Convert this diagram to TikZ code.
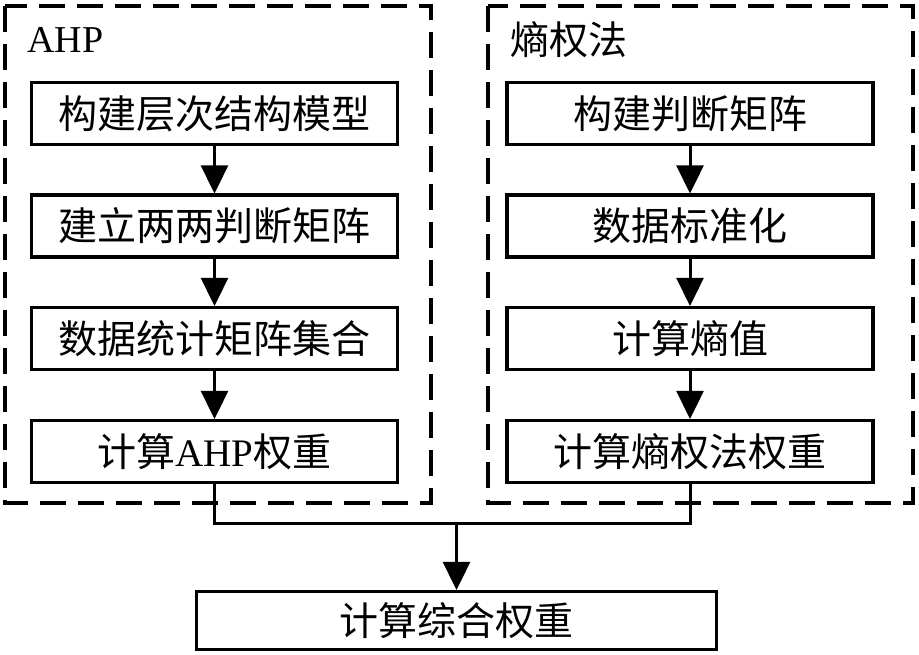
\documentclass[tikz,border=0pt]{standalone}
\usepackage{fontspec}
\setmainfont{Liberation Serif}
\newfontfamily\cjk{Noto Sans CJK SC}
\usetikzlibrary{arrows.meta}
\begin{document}
\begin{tikzpicture}[x=1pt,y=1pt,
  stepbox/.style={draw, line width=3.2pt, minimum width=366pt, minimum height=62pt, inner sep=0pt, font=\fontsize{39}{42}\selectfont\cjk},
  groupbox/.style={draw, line width=3.3pt, dash pattern=on 26pt off 12pt},
  flow/.style={line width=3pt, -{Triangle[length=28pt,width=27pt]}},
  joinline/.style={line width=3pt},
  grouplabel/.style={anchor=west, inner sep=0pt, font=\fontsize{38}{40}\selectfont}]
\useasboundingbox (0,0) rectangle (919,-654);
% group frames
\draw[groupbox] (5,-6) rectangle (431,-503);
\draw[groupbox] (488,-6) rectangle (913,-503);
\node[grouplabel] (lblA) at (27,-40) {AHP};
\node[grouplabel] (lblE) at (510,-40) {\fontsize{39}{42}\selectfont\cjk 熵权法};
% AHP column
\node[stepbox] (a1) at (214.5,-113.5) {构建层次结构模型};
\node[stepbox] (a2) at (214.5,-226) {建立两两判断矩阵};
\node[stepbox] (a3) at (214.5,-338.5) {数据统计矩阵集合};
\node[stepbox] (a4) at (214.5,-451.5) {计算{\rmfamily AHP}权重};
% Entropy column
\node[stepbox] (e1) at (690,-113.5) {构建判断矩阵};
\node[stepbox] (e2) at (690,-226) {数据标准化};
\node[stepbox] (e3) at (690,-338.5) {计算熵值};
\node[stepbox] (e4) at (690,-451.5) {计算熵权法权重};
% final
\node[stepbox, minimum width=520pt, minimum height=58pt] (f) at (456.5,-620.5) {计算综合权重};
% arrows
\draw[flow] (a1) -- (a2);
\draw[flow] (a2) -- (a3);
\draw[flow] (a3) -- (a4);
\draw[flow] (e1) -- (e2);
\draw[flow] (e2) -- (e3);
\draw[flow] (e3) -- (e4);
\coordinate (jL) at (214.5,-523);
\coordinate (jR) at (690,-523);
\coordinate (jM) at (456.5,-523);
\draw[joinline] (a4.south) -- (jL) -- (jR) -- (e4.south);
\draw[flow] (jM) -- (f.north);
\end{tikzpicture}
\end{document}
